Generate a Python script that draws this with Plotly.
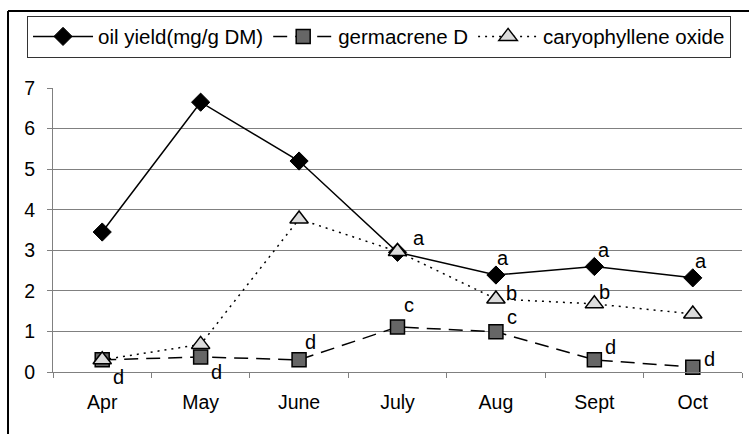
import plotly.graph_objects as go

months = ["Apr", "May", "June", "July", "Aug", "Sept", "Oct"]
oil_yield = [3.45, 6.65, 5.2, 2.95, 2.39, 2.6, 2.32]
germacrene = [0.30, 0.37, 0.30, 1.11, 0.99, 0.30, 0.12]
caryophyllene = [0.30, 0.68, 3.77, 2.97, 1.80, 1.68, 1.43]
y_ticks = [0, 1, 2, 3, 4, 5, 6, 7]

oil_letters = ["", "", "", "a", "a", "a", "a"]
germ_letters = ["d", "d", "d", "c", "c", "d", "d"]
cary_letters = ["", "", "", "", "b", "b", ""]

oil_shift = [(0, 0), (0, 0), (0, 0), (21, 14), (7, 17), (10, 17), (8, 17)]
germ_shift = [(16, -17), (16, -15), (11, 18), (11, 22), (16, 15), (16, 13), (17, 8)]
cary_shift = [(0, 0), (0, 0), (0, 0), (0, 0), (16, 6), (10, 12), (0, 0)]

FONT = "Liberation Sans, Arial, sans-serif"

fig = go.Figure()
fig.add_trace(go.Scatter(
    x=months, y=oil_yield, name="oil yield(mg/g DM)", mode="lines+markers",
    line=dict(color="black", width=1.5),
    marker=dict(symbol="diamond", size=14, color="black", line=dict(color="black", width=1)),
    cliponaxis=False))
fig.add_trace(go.Scatter(
    x=months, y=germacrene, name="germacrene D", mode="lines+markers",
    line=dict(color="black", width=1.5, dash="14px,8px"),
    marker=dict(symbol="square", size=14, color="#666666", line=dict(color="black", width=1.5)),
    cliponaxis=False))
fig.add_trace(go.Scatter(
    x=months, y=caryophyllene, name="caryophyllene oxide", mode="lines+markers",
    line=dict(color="black", width=1.5, dash="2px,5px"),
    marker=dict(symbol="triangle-up", size=16, color="#dcdcdc", line=dict(color="black", width=1.5)),
    cliponaxis=False))

for vals, letters, shifts in [(oil_yield, oil_letters, oil_shift),
                              (germacrene, germ_letters, germ_shift),
                              (caryophyllene, cary_letters, cary_shift)]:
    for m, v, t, (dx, dy) in zip(months, vals, letters, shifts):
        if t:
            fig.add_annotation(x=m, y=v, text=t, showarrow=False, xshift=dx, yshift=dy,
                               font=dict(family=FONT, size=20, color="black"))

# outer frame (top and left edges visible)
fig.add_shape(type="line", xref="paper", yref="paper", x0=-0.0653, x1=1.1, y0=1.2711, y1=1.2711,
              line=dict(color="black", width=2))
fig.add_shape(type="line", xref="paper", yref="paper", x0=-0.0653, x1=-0.0653, y0=-0.4, y1=1.2711,
              line=dict(color="black", width=2))

fig.update_layout(
    width=749, height=434,
    margin=dict(l=53, r=7, t=88, b=62, autoexpand=False),
    paper_bgcolor="white", plot_bgcolor="white",
    font=dict(family=FONT, size=19, color="black"),
    showlegend=True,
    legend=dict(orientation="h", x=-0.0377, y=1.255, xanchor="left", yanchor="top",
                bgcolor="white", bordercolor="#333333", borderwidth=1,
                itemwidth=60, font=dict(family=FONT, size=20.5, color="black"),
                itemclick=False),
    xaxis=dict(type="category", range=[-0.5, 6.5], showgrid=False,
               showline=True, linecolor="#808080", linewidth=1,
               ticks="outside", ticklen=5, tickcolor="#808080", tickson="boundaries",
               ticklabelstandoff=13, tickfont=dict(size=19.5)),
    yaxis=dict(range=[0, 7], tickvals=y_ticks, showgrid=True, gridcolor="#808080", gridwidth=1,
               showline=True, linecolor="#808080", linewidth=1, zeroline=False,
               ticks="outside", ticklen=5, tickcolor="#808080",
               ticklabelstandoff=8, tickfont=dict(size=19.5)),
)

fig.write_html("out.html", config={"displayModeBar": False},
               post_script="document.body.style.margin='0';")
